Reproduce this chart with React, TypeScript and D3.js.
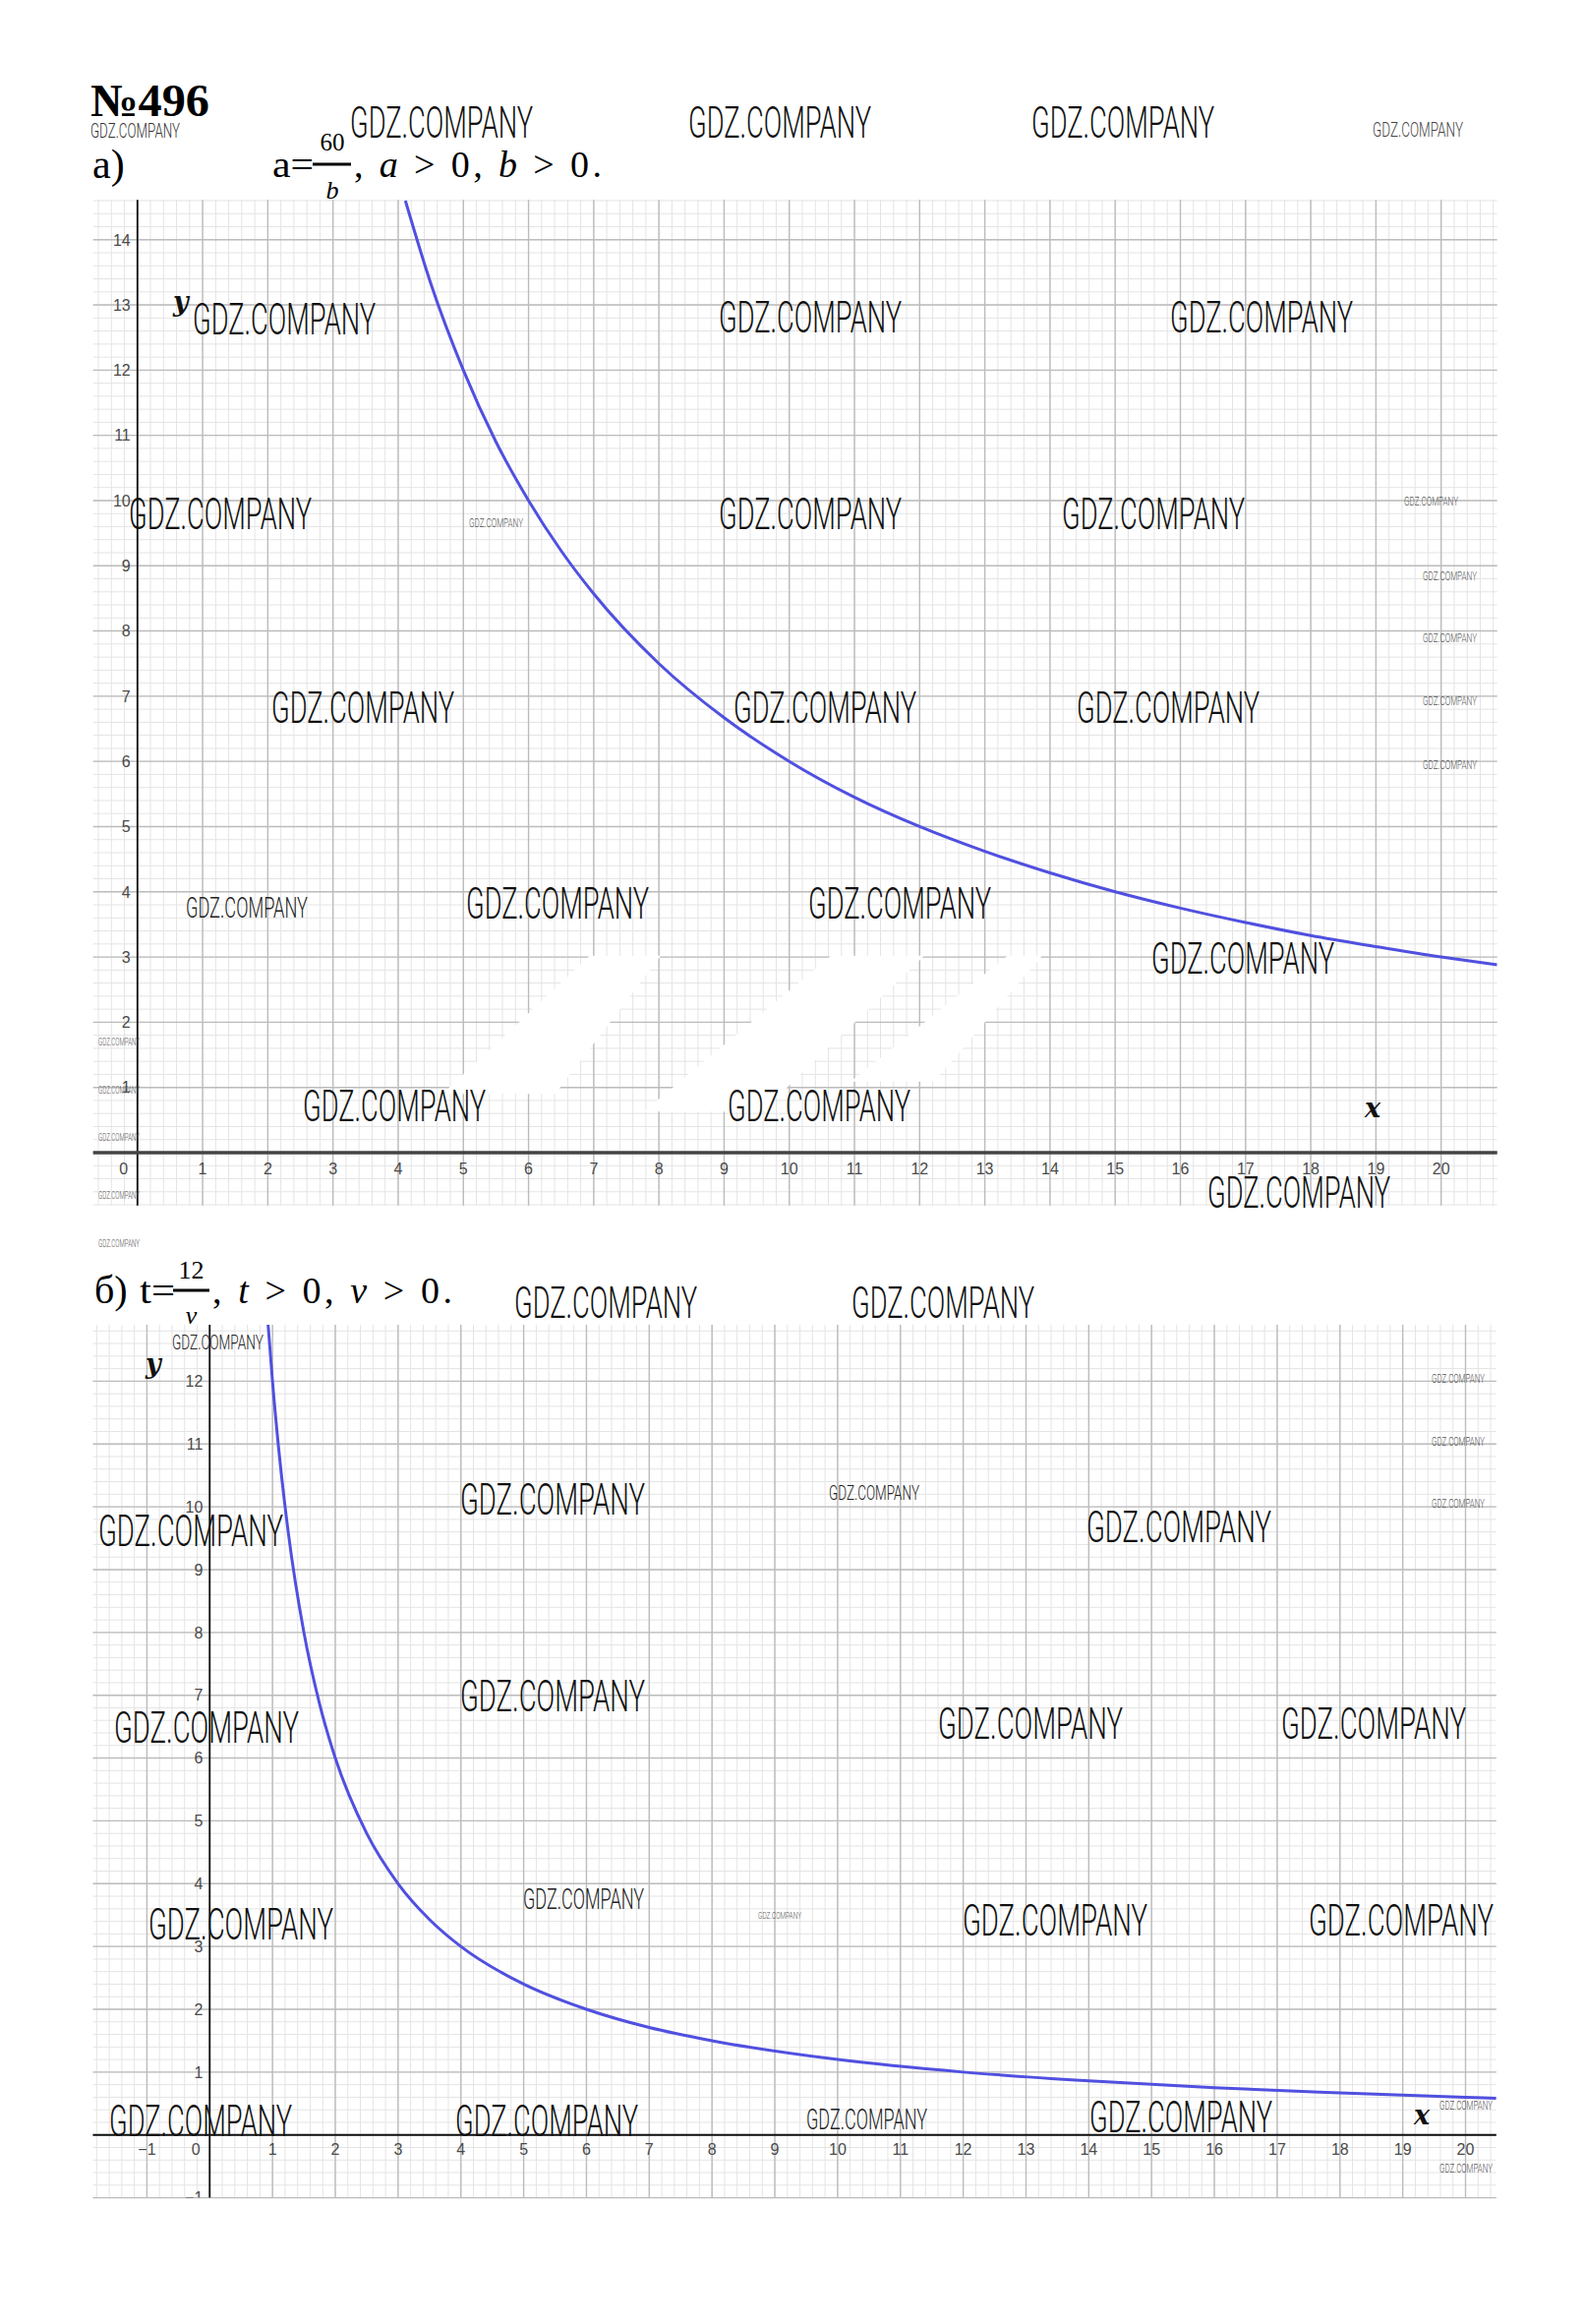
import React from "react"
import * as d3 from "d3"

const W = 1611
const H = 2363

// ---- chart а) a = 60 / b ----
const aXDomain = [-0.68, 20.86]
const aYDomain = [-0.81, 14.61]
const aXLabels = [1, 2, 3, 4, 5, 6, 7, 8, 9, 10, 11, 12, 13, 14, 15, 16, 17, 18, 19, 20]
const aYLabels = [1, 2, 3, 4, 5, 6, 7, 8, 9, 10, 11, 12, 13, 14]
// points
const aCurveX = [4.11, 4.5, 5, 5.5, 6, 6.5, 7, 8, 9, 10, 11, 12, 13, 14, 15, 16, 17, 18, 19, 20, 20.86]
const aCurveY = [14.6, 13.33, 12, 10.9, 10, 9.23, 8.57, 7.5, 6.67, 6, 5.45, 5, 4.62, 4.29, 4, 3.75, 3.53, 3.33, 3.16, 3, 2.88]

// ---- chart б) t = 12 / v ----
const bXDomain = [-1.86, 20.49]
const bYDomain = [-1.0, 12.9]
const bXLabels = [-2, -1, 1, 2, 3, 4, 5, 6, 7, 8, 9, 10, 11, 12, 13, 14, 15, 16, 17, 18, 19, 20]
const bYLabels = [-1, 1, 2, 3, 4, 5, 6, 7, 8, 9, 10, 11, 12]
const bCurveX = [0.93, 1, 1.1, 1.25, 1.5, 1.75, 2, 2.5, 3, 3.5, 4, 5, 6, 7, 8, 10, 12, 14, 16, 18, 20, 20.49]
const bCurveY = [12.9, 12, 10.91, 9.6, 8, 6.86, 6, 4.8, 4, 3.43, 3, 2.4, 2, 1.71, 1.5, 1.2, 1, 0.86, 0.75, 0.67, 0.6, 0.585]

// erased (white) blotches on chart а), in chart units: [x0,x1] at yBottom, [x2,x3] at yTop
const aPatches = [
  [4.68, 6.41, 0.9, 6.94, 8.03, 3.02],
  [7.77, 9.58, 0.63, 10.64, 12.07, 3.02],
  [10.94, 12.22, 1.09, 13.35, 13.88, 3.02],
]

// watermark layout: x, baseline, width, font size, colour
const WM = "GDZ.COMPANY"
const watermarks: [number, number, number, number, string][] = [
  [92, 140, 91, 20, "#333"],
  [356, 140, 186, 44, "#111"],
  [700, 140, 186, 44, "#111"],
  [1049, 140, 186, 44, "#111"],
  [1396, 139, 92, 20, "#444"],
  // chart а
  [196, 340, 186, 44, "#111"],
  [731, 338, 186, 44, "#111"],
  [1190, 338, 186, 44, "#111"],
  [131, 538, 186, 44, "#111"],
  [477, 536, 55, 12, "#555"],
  [731, 538, 186, 44, "#111"],
  [1080, 538, 186, 44, "#111"],
  [1428, 514, 55, 12, "#555"],
  [1447, 590, 55, 12, "#555"],
  [1447, 653, 55, 12, "#555"],
  [1447, 717, 55, 12, "#555"],
  [1447, 782, 55, 12, "#555"],
  [276, 735, 186, 44, "#111"],
  [746, 735, 186, 44, "#111"],
  [1095, 735, 186, 44, "#111"],
  [189, 933, 124, 30, "#222"],
  [474, 934, 186, 44, "#111"],
  [822, 934, 186, 44, "#111"],
  [1171, 990, 186, 44, "#111"],
  [308, 1140, 186, 44, "#111"],
  [740, 1140, 186, 44, "#111"],
  [1228, 1228, 186, 44, "#111"],
  [100, 1063, 42, 10, "#555"],
  [100, 1112, 42, 10, "#555"],
  [100, 1160, 42, 10, "#555"],
  [100, 1219, 42, 10, "#555"],
  [100, 1268, 42, 10, "#555"],
  // chart б
  [523, 1340, 186, 44, "#111"],
  [866, 1340, 186, 44, "#111"],
  [175, 1372, 93, 21, "#222"],
  [1456, 1406, 54, 12, "#555"],
  [1456, 1470, 54, 12, "#555"],
  [1456, 1533, 54, 12, "#555"],
  [468, 1540, 188, 44, "#111"],
  [843, 1525, 92, 21, "#222"],
  [100, 1572, 188, 44, "#111"],
  [1105, 1568, 188, 44, "#111"],
  [468, 1740, 188, 44, "#111"],
  [116, 1772, 188, 44, "#111"],
  [954, 1768, 188, 44, "#111"],
  [1303, 1768, 188, 44, "#111"],
  [532, 1941, 123, 30, "#222"],
  [771, 1951, 44, 9, "#555"],
  [151, 1972, 188, 44, "#111"],
  [979, 1968, 188, 44, "#111"],
  [1331, 1968, 188, 44, "#111"],
  [111, 2172, 186, 44, "#111"],
  [463, 2172, 186, 44, "#111"],
  [1108, 2168, 186, 44, "#111"],
  [820, 2165, 123, 30, "#222"],
  [1464, 2145, 54, 12, "#555"],
  [1464, 2209, 54, 12, "#555"],
]

const fmt = (v: number) => (v < 0 ? "\u2212" + Math.abs(v) : String(v))

interface GraphProps {
  id: string
  xDomain: number[]
  yDomain: number[]
  xRange: number[]
  yRange: number[]
  xLabels: number[]
  yLabels: number[]
  curveX: number[]
  curveY: number[]
  xAxisColor: string
  xAxisWidth: number
  xLabelDy: number
  patches?: number[][]
  xName: number[]
  yName: number[]
}

function Graph(p: GraphProps) {
  const x = d3.scaleLinear().domain(p.xDomain).range(p.xRange)
  const y = d3.scaleLinear().domain(p.yDomain).range(p.yRange)
  const [x0, x1] = p.xRange
  const [y1, y0] = [p.yRange[0], p.yRange[1]]

  const minorX = d3.range(Math.ceil(p.xDomain[0] * 5), Math.floor(p.xDomain[1] * 5) + 1).map((i) => i / 5)
  const minorY = d3.range(Math.ceil(p.yDomain[0] * 5), Math.floor(p.yDomain[1] * 5) + 1).map((i) => i / 5)
  const majorX = d3.range(Math.ceil(p.xDomain[0]), Math.floor(p.xDomain[1]) + 1)
  const majorY = d3.range(Math.ceil(p.yDomain[0]), Math.floor(p.yDomain[1]) + 1)

  const pts = p.curveX.map((v, i) => [v, p.curveY[i]] as [number, number])
  const line = d3
    .line<[number, number]>()
    .x((d) => x(d[0]))
    .y((d) => y(d[1]))
    .curve(d3.curveMonotoneX)

  const clip = `clip-${p.id}`
  return (
    <g>
      <defs>
        <clipPath id={clip}>
          <rect x={x0} y={y0} width={x1 - x0} height={y1 - y0} />
        </clipPath>
      </defs>
      {minorX.map((v) => (
        <line key={"mx" + v} x1={x(v)} x2={x(v)} y1={y0} y2={y1} stroke="#e4e4e4" strokeWidth={1} />
      ))}
      {minorY.map((v) => (
        <line key={"my" + v} x1={x0} x2={x1} y1={y(v)} y2={y(v)} stroke="#e4e4e4" strokeWidth={1} />
      ))}
      {majorX.map((v) => (
        <line key={"Mx" + v} x1={x(v)} x2={x(v)} y1={y0} y2={y1} stroke="#bcbcbc" strokeWidth={1.4} />
      ))}
      {majorY.map((v) => (
        <line key={"My" + v} x1={x0} x2={x1} y1={y(v)} y2={y(v)} stroke="#bcbcbc" strokeWidth={1.4} />
      ))}
      {(p.patches || []).map((q, i) => (
        <polygon
          key={"p" + i}
          points={[
            [x(q[0]), y(q[2])],
            [x(q[1]), y(q[2])],
            [x(q[4]), y(q[5])],
            [x(q[3]), y(q[5])],
          ]
            .map((c) => c.join(","))
            .join(" ")}
          fill="#fff"
        />
      ))}
      <line x1={x(0)} x2={x(0)} y1={y0} y2={y1} stroke="#111" strokeWidth={1.8} />
      <line x1={x0} x2={x1} y1={y(0)} y2={y(0)} stroke={p.xAxisColor} strokeWidth={p.xAxisWidth} />
      <g clipPath={`url(#${clip})`} fontFamily="Liberation Sans, Arial, sans-serif" fontSize={16} fill="#4a4a4a">
        {p.xLabels.map((v) => (
          <text key={"xl" + v} x={x(v)} y={y(0) + p.xLabelDy} textAnchor="middle">
            {fmt(v)}
          </text>
        ))}
        <text x={x(0) - 14} y={y(0) + p.xLabelDy} textAnchor="middle">
          0
        </text>
        {p.yLabels.map((v) => (
          <text key={"yl" + v} x={x(0) - 7} y={y(v)} dy="0.36em" textAnchor="end">
            {fmt(v)}
          </text>
        ))}
      </g>
      <path d={line(pts) || ""} fill="none" stroke="#5050e0" strokeWidth={3} clipPath={`url(#${clip})`} />
      <text
        x={p.xName[0]}
        y={p.xName[1]}
        fontFamily="DejaVu Serif, serif"
        fontStyle="italic"
        fontWeight="bold"
        fontSize={27}
        fill="#111"
      >
        x
      </text>
      <text
        x={p.yName[0]}
        y={p.yName[1]}
        fontFamily="DejaVu Serif, serif"
        fontStyle="italic"
        fontWeight="bold"
        fontSize={27}
        fill="#111"
      >
        y
      </text>
    </g>
  )
}

export default function App() {
  const serif = "Liberation Serif, Times New Roman, serif"
  return (
    <svg
      width={W}
      height={H}
      viewBox={`0 0 ${W} ${H}`}
      style={{ position: "absolute", left: 0, top: 0, background: "#fff" }}
    >
      <rect width={W} height={H} fill="#fff" />

      {/* heading */}
      <text x={92} y={118} fontFamily={serif} fontWeight="bold" fontSize={47} textLength={121} lengthAdjust="spacingAndGlyphs">
        №496
      </text>
      <text x={94} y={181} fontFamily={serif} fontSize={42}>
        а)
      </text>
      <text x={277} y={180} fontFamily={serif} fontSize={38} textLength={42} lengthAdjust="spacingAndGlyphs">
        a=
      </text>
      <line x1={318} x2={357} y1={167} y2={167} stroke="#000" strokeWidth={3} />
      <text x={338} y={153} fontFamily={serif} fontSize={25} textAnchor="middle">
        60
      </text>
      <text x={338} y={202} fontFamily={serif} fontStyle="italic" fontSize={26} textAnchor="middle">
        b
      </text>
      <text x={360} y={180} fontFamily={serif} fontSize={38} textLength={252} lengthAdjust="spacing">
        ,<tspan fontStyle="italic"> a</tspan> &gt; 0,<tspan fontStyle="italic"> b</tspan> &gt; 0.
      </text>

      <Graph
        id="a"
        xDomain={aXDomain}
        yDomain={aYDomain}
        xRange={[94.7, 1522.7]}
        yRange={[1225.7, 203.3]}
        xLabels={aXLabels}
        yLabels={aYLabels}
        curveX={aCurveX}
        curveY={aCurveY}
        xAxisColor="#444"
        xAxisWidth={3.5}
        xLabelDy={22}
        patches={aPatches}
        xName={[1388, 1136]}
        yName={[176, 316]}
      />

      {/* heading б */}
      <text x={96} y={1325} fontFamily={serif} fontSize={40}>
        б)
      </text>
      <text x={142} y={1325} fontFamily={serif} fontSize={38} textLength={36} lengthAdjust="spacingAndGlyphs">
        t=
      </text>
      <line x1={176} x2={213} y1={1312} y2={1312} stroke="#000" strokeWidth={3} />
      <text x={194.5} y={1300} fontFamily={serif} fontSize={26} textAnchor="middle">
        12
      </text>
      <text x={194.5} y={1346} fontFamily={serif} fontStyle="italic" fontSize={26} textAnchor="middle">
        v
      </text>
      <text x={216} y={1325} fontFamily={serif} fontSize={38} textLength={244} lengthAdjust="spacing">
        ,<tspan fontStyle="italic"> t</tspan> &gt; 0,<tspan fontStyle="italic"> v</tspan> &gt; 0.
      </text>

      <Graph
        id="b"
        xDomain={bXDomain}
        yDomain={bYDomain}
        xRange={[94.5, 1521.8]}
        yRange={[2234.6, 1346.9]}
        xLabels={bXLabels}
        yLabels={bYLabels}
        curveX={bCurveX}
        curveY={bCurveY}
        xAxisColor="#111"
        xAxisWidth={2}
        xLabelDy={20}
        xName={[1438, 2160]}
        yName={[148, 1396]}
      />

      {/* watermarks */}
      <g fontFamily="Roboto, Liberation Sans, sans-serif" fontWeight={300}>
        {watermarks.map(([wx, wy, ww, fs, c], i) => (
          <text key={"wm" + i} x={wx} y={wy} fontSize={fs} fill={c} textLength={ww} lengthAdjust="spacingAndGlyphs">
            {WM}
          </text>
        ))}
      </g>
    </svg>
  )
}
